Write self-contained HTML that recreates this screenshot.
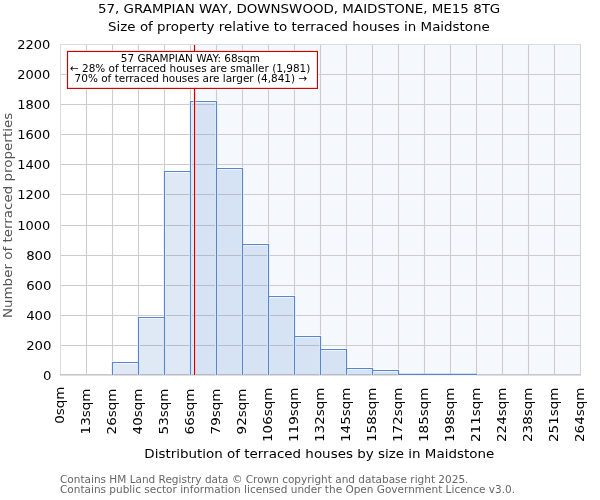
<!DOCTYPE html>
<html lang="en"><head><meta charset="utf-8"><title>57, GRAMPIAN WAY, DOWNSWOOD, MAIDSTONE, ME15 8TG</title>
<style>html,body{margin:0;padding:0;background:#fff;overflow:hidden}svg{display:block}text{font-family:"DejaVu Sans","Liberation Sans",sans-serif;white-space:pre}</style></head><body>
<svg width="600" height="500" viewBox="0 0 600 500">
<rect x="0" y="0" width="600" height="500" fill="#ffffff"/>
<rect x="194.55" y="44.5" width="386.45" height="331.0" fill="#3c78e0" fill-opacity="0.052"/>
<g stroke="#cccccc" stroke-width="1.1" fill="none">
<line x1="86.5" y1="44" x2="86.5" y2="376"/>
<line x1="112.5" y1="44" x2="112.5" y2="376"/>
<line x1="138.5" y1="44" x2="138.5" y2="376"/>
<line x1="164.5" y1="44" x2="164.5" y2="376"/>
<line x1="190.5" y1="44" x2="190.5" y2="376"/>
<line x1="216.5" y1="44" x2="216.5" y2="376"/>
<line x1="242.5" y1="44" x2="242.5" y2="376"/>
<line x1="268.5" y1="44" x2="268.5" y2="376"/>
<line x1="294.5" y1="44" x2="294.5" y2="376"/>
<line x1="320.5" y1="44" x2="320.5" y2="376"/>
<line x1="346.5" y1="44" x2="346.5" y2="376"/>
<line x1="372.5" y1="44" x2="372.5" y2="376"/>
<line x1="398.5" y1="44" x2="398.5" y2="376"/>
<line x1="424.5" y1="44" x2="424.5" y2="376"/>
<line x1="450.5" y1="44" x2="450.5" y2="376"/>
<line x1="476.5" y1="44" x2="476.5" y2="376"/>
<line x1="502.5" y1="44" x2="502.5" y2="376"/>
<line x1="528.5" y1="44" x2="528.5" y2="376"/>
<line x1="554.5" y1="44" x2="554.5" y2="376"/>
<line x1="60" y1="345.5" x2="581" y2="345.5"/>
<line x1="60" y1="315.5" x2="581" y2="315.5"/>
<line x1="60" y1="285.5" x2="581" y2="285.5"/>
<line x1="60" y1="255.5" x2="581" y2="255.5"/>
<line x1="60" y1="225.5" x2="581" y2="225.5"/>
<line x1="60" y1="194.5" x2="581" y2="194.5"/>
<line x1="60" y1="164.5" x2="581" y2="164.5"/>
<line x1="60" y1="134.5" x2="581" y2="134.5"/>
<line x1="60" y1="104.5" x2="581" y2="104.5"/>
<line x1="60" y1="74.5" x2="581" y2="74.5"/>
</g>
<rect x="60" y="44" width="1" height="332" fill="#dcdcdc"/>
<rect x="60" y="44" width="521" height="1" fill="#dcdcdc"/>
<rect x="580" y="44" width="1" height="332" fill="#d2d2d2"/>
<rect x="60" y="374" width="521" height="1" fill="#c8c8c8"/>
<rect x="60" y="375" width="521" height="1" fill="#dedede"/>
<g fill="#3d7ac8" fill-opacity="0.165" stroke="none">
<rect x="112.5" y="362.5" width="26.0" height="12.50"/>
<rect x="138.5" y="317.5" width="26.0" height="57.50"/>
<rect x="164.5" y="171.5" width="26.0" height="203.50"/>
<rect x="190.5" y="101.5" width="26.0" height="273.50"/>
<rect x="216.5" y="168.5" width="26.0" height="206.50"/>
<rect x="242.5" y="244.5" width="26.0" height="130.50"/>
<rect x="268.5" y="296.5" width="26.0" height="78.50"/>
<rect x="294.5" y="336.5" width="26.0" height="38.50"/>
<rect x="320.5" y="349.5" width="26.0" height="25.50"/>
<rect x="346.5" y="368.5" width="26.0" height="6.50"/>
<rect x="372.5" y="370.5" width="26.0" height="4.50"/>
<rect x="398.5" y="374.4" width="26.0" height="0.60"/>
<rect x="424.5" y="374.4" width="26.0" height="0.60"/>
<rect x="450.5" y="374.4" width="26.0" height="0.60"/>
</g>
<g fill="none" stroke="#ffffff" stroke-opacity="0.6" stroke-width="3">
<path d="M112.5 375V362.5H138.5V375"/>
<path d="M138.5 375V317.5H164.5V375"/>
<path d="M164.5 375V171.5H190.5V375"/>
<path d="M190.5 375V101.5H216.5V375"/>
<path d="M216.5 375V168.5H242.5V375"/>
<path d="M242.5 375V244.5H268.5V375"/>
<path d="M268.5 375V296.5H294.5V375"/>
<path d="M294.5 375V336.5H320.5V375"/>
<path d="M320.5 375V349.5H346.5V375"/>
<path d="M346.5 375V368.5H372.5V375"/>
<path d="M372.5 375V370.5H398.5V375"/>
<path d="M398.5 375V374.4H424.5V375"/>
<path d="M424.5 375V374.4H450.5V375"/>
<path d="M450.5 375V374.4H476.5V375"/>
</g>
<g fill="none" stroke="#5686cc" stroke-width="1.2">
<path d="M112.5 375V362.5H138.5V375"/>
<path d="M138.5 375V317.5H164.5V375"/>
<path d="M164.5 375V171.5H190.5V375"/>
<path d="M190.5 375V101.5H216.5V375"/>
<path d="M216.5 375V168.5H242.5V375"/>
<path d="M242.5 375V244.5H268.5V375"/>
<path d="M268.5 375V296.5H294.5V375"/>
<path d="M294.5 375V336.5H320.5V375"/>
<path d="M320.5 375V349.5H346.5V375"/>
<path d="M346.5 375V368.5H372.5V375"/>
<path d="M372.5 375V370.5H398.5V375"/>
<path d="M398.5 375V374.4H424.5V375"/>
<path d="M424.5 375V374.4H450.5V375"/>
<path d="M450.5 375V374.4H476.5V375"/>
</g>
<rect x="67.5" y="51.45" width="249.95" height="36.95" fill="none" stroke="#ffffff" stroke-opacity="0.5" stroke-width="3.1"/>
<line x1="194.55" y1="45" x2="194.55" y2="375" stroke="#ffffff" stroke-opacity="0.5" stroke-width="3.1"/>
<line x1="194.55" y1="45" x2="194.55" y2="375" stroke="#cc0000" stroke-width="1.25"/>
<rect x="67.5" y="51.45" width="249.95" height="36.95" fill="#ffffff" stroke="#cc0000" stroke-width="1.15"/>
<text transform="translate(190.3,61.8)" font-size="10.48" fill="#000" text-anchor="middle">57 GRAMPIAN WAY: 68sqm</text>
<text transform="translate(190.1,71.8)" font-size="10.48" fill="#000" text-anchor="middle">← 28% of terraced houses are smaller (1,981)</text>
<text transform="translate(190.9,81.9)" font-size="10.48" fill="#000" text-anchor="middle">70% of terraced houses are larger (4,841) →</text>
<text transform="translate(299.1,13.0) scale(1,0.91)" font-size="13.44" fill="#000" text-anchor="middle">57, GRAMPIAN WAY, DOWNSWOOD, MAIDSTONE, ME15 8TG</text>
<text transform="translate(298.95,30.9) scale(1,0.91)" font-size="13.42" fill="#000" text-anchor="middle">Size of property relative to terraced houses in Maidstone</text>
<text transform="translate(51.5,380.1) scale(1,0.93)" font-size="13.3" fill="#000" text-anchor="end">0</text>
<text transform="translate(51.5,350.1) scale(1,0.93)" font-size="13.3" fill="#000" text-anchor="end">200</text>
<text transform="translate(51.5,320.1) scale(1,0.93)" font-size="13.3" fill="#000" text-anchor="end">400</text>
<text transform="translate(51.5,290.1) scale(1,0.93)" font-size="13.3" fill="#000" text-anchor="end">600</text>
<text transform="translate(51.5,260.1) scale(1,0.93)" font-size="13.3" fill="#000" text-anchor="end">800</text>
<text transform="translate(50.2,230.1) scale(1,0.95)" font-size="13.0" fill="#000" text-anchor="end">1000</text>
<text transform="translate(50.2,199.1) scale(1,0.95)" font-size="13.0" fill="#000" text-anchor="end">1200</text>
<text transform="translate(50.2,169.1) scale(1,0.95)" font-size="13.0" fill="#000" text-anchor="end">1400</text>
<text transform="translate(50.2,139.1) scale(1,0.95)" font-size="13.0" fill="#000" text-anchor="end">1600</text>
<text transform="translate(50.2,109.1) scale(1,0.95)" font-size="13.0" fill="#000" text-anchor="end">1800</text>
<text transform="translate(50.2,79.1) scale(1,0.95)" font-size="13.0" fill="#000" text-anchor="end">2000</text>
<text transform="translate(50.2,49.1) scale(1,0.95)" font-size="13.0" fill="#000" text-anchor="end">2200</text>
<text transform="translate(64.4,386.5) rotate(-90) scale(1,0.91)" font-size="13.5" fill="#000" text-anchor="end">0sqm</text>
<text transform="translate(90.4,388.5) rotate(-90) scale(1,0.91)" font-size="13.5" fill="#000" text-anchor="end">13sqm</text>
<text transform="translate(116.4,388.5) rotate(-90) scale(1,0.91)" font-size="13.5" fill="#000" text-anchor="end">26sqm</text>
<text transform="translate(142.4,388.5) rotate(-90) scale(1,0.91)" font-size="13.5" fill="#000" text-anchor="end">40sqm</text>
<text transform="translate(168.4,388.5) rotate(-90) scale(1,0.91)" font-size="13.5" fill="#000" text-anchor="end">53sqm</text>
<text transform="translate(194.4,388.5) rotate(-90) scale(1,0.91)" font-size="13.5" fill="#000" text-anchor="end">66sqm</text>
<text transform="translate(220.4,388.5) rotate(-90) scale(1,0.91)" font-size="13.5" fill="#000" text-anchor="end">79sqm</text>
<text transform="translate(246.4,388.5) rotate(-90) scale(1,0.91)" font-size="13.5" fill="#000" text-anchor="end">92sqm</text>
<text transform="translate(272.4,387.5) rotate(-90) scale(1,0.91)" font-size="13.5" fill="#000" text-anchor="end">106sqm</text>
<text transform="translate(298.4,387.5) rotate(-90) scale(1,0.91)" font-size="13.5" fill="#000" text-anchor="end">119sqm</text>
<text transform="translate(324.4,387.5) rotate(-90) scale(1,0.91)" font-size="13.5" fill="#000" text-anchor="end">132sqm</text>
<text transform="translate(350.4,387.5) rotate(-90) scale(1,0.91)" font-size="13.5" fill="#000" text-anchor="end">145sqm</text>
<text transform="translate(376.4,387.5) rotate(-90) scale(1,0.91)" font-size="13.5" fill="#000" text-anchor="end">158sqm</text>
<text transform="translate(402.4,387.5) rotate(-90) scale(1,0.91)" font-size="13.5" fill="#000" text-anchor="end">172sqm</text>
<text transform="translate(428.4,387.5) rotate(-90) scale(1,0.91)" font-size="13.5" fill="#000" text-anchor="end">185sqm</text>
<text transform="translate(454.4,387.5) rotate(-90) scale(1,0.91)" font-size="13.5" fill="#000" text-anchor="end">198sqm</text>
<text transform="translate(480.4,387.5) rotate(-90) scale(1,0.91)" font-size="13.5" fill="#000" text-anchor="end">211sqm</text>
<text transform="translate(506.4,387.5) rotate(-90) scale(1,0.91)" font-size="13.5" fill="#000" text-anchor="end">224sqm</text>
<text transform="translate(532.4,387.5) rotate(-90) scale(1,0.91)" font-size="13.5" fill="#000" text-anchor="end">238sqm</text>
<text transform="translate(558.4,387.5) rotate(-90) scale(1,0.91)" font-size="13.5" fill="#000" text-anchor="end">251sqm</text>
<text transform="translate(584.4,387.5) rotate(-90) scale(1,0.91)" font-size="13.5" fill="#000" text-anchor="end">264sqm</text>
<text transform="translate(12.2,215.45) rotate(-90) scale(1,0.91)" font-size="13.46" fill="#555555" text-anchor="middle">Number of terraced properties</text>
<text transform="translate(319.3,458) scale(1,0.91)" font-size="13.46" fill="#000" text-anchor="middle">Distribution of terraced houses by size in Maidstone</text>
<text transform="translate(60.0,483)" font-size="10.5" fill="#666666" text-anchor="start">Contains HM Land Registry data © Crown copyright and database right 2025.</text>
<text transform="translate(60.0,492.7)" font-size="10.5" fill="#666666" text-anchor="start">Contains public sector information licensed under the Open Government Licence v3.0.</text>
</svg></body></html>
